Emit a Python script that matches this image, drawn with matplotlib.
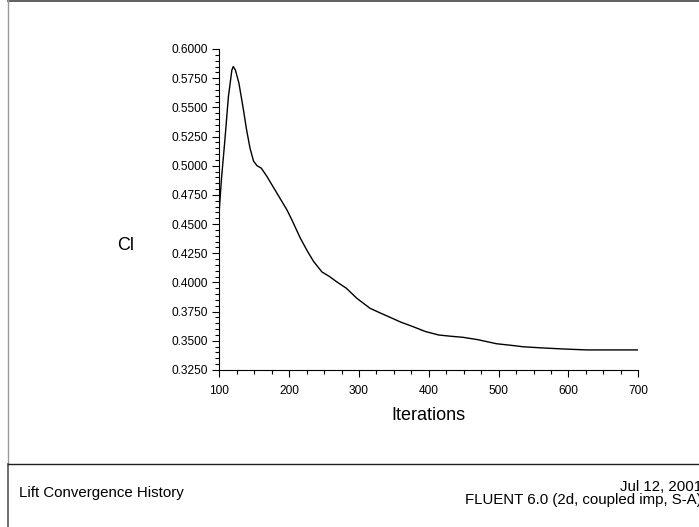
import matplotlib
matplotlib.use('Agg')
import matplotlib.pyplot as plt
from matplotlib.lines import Line2D
from matplotlib.ticker import MultipleLocator

plt.rcParams['font.family'] = ['Liberation Sans', 'DejaVu Sans']

# Lift coefficient history
iters = [100, 103, 108, 113, 118, 120, 123, 128, 134, 139,
         144, 149, 154, 160, 168, 177, 187, 197, 204, 216,
         226, 235, 247, 258, 268, 282, 297, 316, 330, 345,
         360, 378, 395, 414, 430, 449, 470, 497, 520, 535,
         560, 593, 626, 660, 700]
cl = [0.462, 0.488, 0.522, 0.559, 0.582, 0.585, 0.582, 0.571, 0.550, 0.531,
      0.515, 0.504, 0.500, 0.498, 0.491, 0.482, 0.472, 0.462, 0.4535, 0.438,
      0.427, 0.418, 0.409, 0.405, 0.4006, 0.395, 0.3864, 0.3778, 0.374, 0.370,
      0.366, 0.362, 0.358, 0.355, 0.354, 0.353, 0.351, 0.3475, 0.346, 0.3449,
      0.344, 0.343, 0.3422, 0.3422, 0.3422]

W, H = 699, 527
fig = plt.figure(figsize=(W / 100, H / 100), dpi=100)
ax = fig.add_axes([219.3 / W, 1 - 370 / H, (638.3 - 219.3) / W, (370 - 49) / H])

ax.plot(iters, cl, color='black', lw=1.0)
ax.set_xlim(100, 700)
ax.set_ylim(0.325, 0.600)
ax.xaxis.set_major_locator(MultipleLocator(100))
ax.xaxis.set_minor_locator(MultipleLocator(25))
ax.yaxis.set_major_locator(MultipleLocator(0.025))
ax.yaxis.set_minor_locator(MultipleLocator(0.005))
ax.yaxis.set_major_formatter(plt.FormatStrFormatter('%.4f'))
ax.tick_params(which='major', length=5, width=0.8, labelsize=8.6, direction='out')
ax.tick_params(which='minor', length=3, width=0.8, direction='out')
ax.tick_params(axis='x', pad=6)
for s in ['top', 'right']:
    ax.spines[s].set_visible(False)

ax.set_xlabel('Iterations', fontsize=13, labelpad=7)
fig.text(126 / W, 1 - 245 / H, 'Cl', fontsize=13, ha='center', va='center')

# page frame
def px_line(x0, y0, x1, y1, color, lw=1.0):
    fig.add_artist(Line2D([x0 / W, x1 / W], [1 - y0 / H, 1 - y1 / H],
                          transform=fig.transFigure, color=color, lw=lw))

px_line(8, 1.3, W, 1.3, '#444444', 1.2)
px_line(8, 0, 8, 464, '#999999', 1.0)
px_line(8, 464, 8, H, '#555555', 1.2)
px_line(8, 464, W, 464, '#222222', 1.0)

fig.text(19 / W, 1 - 493 / H, 'Lift Convergence History', fontsize=10.8,
         ha='left', va='center')
fig.text(702 / W, 1 - 487 / H, 'Jul 12, 2001', fontsize=10.8,
         ha='right', va='center')
fig.text(702 / W, 1 - 500 / H, 'FLUENT 6.0 (2d, coupled imp, S-A)', fontsize=10.8,
         ha='right', va='center')

fig.savefig('out.png', dpi=100)
